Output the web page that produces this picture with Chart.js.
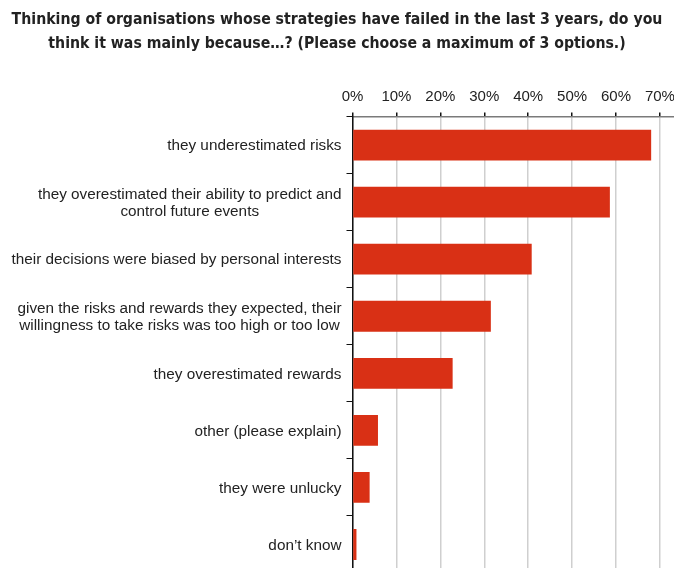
<!DOCTYPE html>
<html>
<head>
<meta charset="utf-8">
<script src="https://cdn.jsdelivr.net/npm/chart.js@4"></script>
<style>
  html, body { margin: 0; padding: 0; background: #fff; overflow: hidden; }
  #wrap { width: 674px; height: 573px; }
</style>
</head>
<body>
<div id="wrap"><canvas id="myChart"></canvas></div>
<script>
const TITLE = [
  'Thinking of organisations whose strategies have failed in the last 3 years, do you',
  'think it was mainly because…? (Please choose a maximum of 3 options.)'
];

const categories = [
  'they underestimated risks',
  ['they overestimated their ability to predict and', 'control future events'],
  'their decisions were biased by personal interests',
  ['given the risks and rewards they expected, their', 'willingness to take risks was too high or too low'],
  'they overestimated rewards',
  'other (please explain)',
  'they were unlucky',
  'don\u2019t know'
];

const percentages = [68, 58.6, 40.8, 31.5, 22.8, 5.8, 3.9, 0.9];

const tickValues = [0, 10, 20, 30, 40, 50, 60, 70];

const COLORS = {
  bar: '#d93015',
  text: '#222222',
  grid: '#cfcfcf',
  axis: '#7a7a7a'
};

const LABEL_FONT = '15.3px "Liberation Sans", Arial, sans-serif';
const LABEL_LINE = 17;

// category labels: block right-aligned to the axis, lines centred within the block
const categoryLabels = {
  id: 'categoryLabels',
  afterDraw(chart) {
    const scale = chart.scales.y;
    const c = chart.ctx;
    const right = scale.right - 11;
    c.save();
    c.font = LABEL_FONT;
    c.fillStyle = COLORS.text;
    c.textAlign = 'center';
    c.textBaseline = 'middle';
    chart.data.labels.forEach((label, i) => {
      const lines = Array.isArray(label) ? label : [label];
      const w = Math.max(...lines.map(l => c.measureText(l).width));
      const cx = right - w / 2;
      const y0 = scale.getPixelForTick(i) + 1 - (lines.length - 1) * LABEL_LINE / 2;
      lines.forEach((l, j) => c.fillText(l, cx, y0 + j * LABEL_LINE));
    });
    c.restore();
  }
};

let ctx = document.getElementById('myChart');

let myChart = new Chart(ctx, {
  type: 'bar',
  data: {
    labels: categories,
    datasets: [{
      data: percentages,
      backgroundColor: COLORS.bar,
      borderWidth: 0,
      barPercentage: 0.54,
      categoryPercentage: 1
    }]
  },
  options: {
    indexAxis: 'y',
    responsive: true,
    maintainAspectRatio: false,
    animation: false,
    layout: { padding: 0 },
    plugins: {
      legend: { display: false },
      tooltip: { enabled: false },
      title: {
        display: true,
        text: TITLE,
        color: COLORS.text,
        font: { family: '"Liberation Sans Narrow", "DejaVu Sans Condensed", sans-serif', size: 15.7, weight: 'bold', lineHeight: 1.53 },
        padding: { top: 8, bottom: 0 }
      }
    },
    scales: {
      x: {
        position: 'top',
        min: 0,
        max: 73.2,
        afterBuildTicks: (scale) => {
          scale.ticks = tickValues.map(v => ({ value: v }));
        },
        afterFit: (scale) => {
          // let the axis run to the right edge
          scale.height = 60.5;
          scale.paddingLeft = 0;
          scale.paddingRight = 0;
        },
        ticks: {
          color: COLORS.text,
          font: { family: '"Liberation Sans", Arial, sans-serif', size: 15 },
          padding: 7,
          callback: (v) => v + '%'
        },
        grid: {
          color: COLORS.grid,
          lineWidth: 1.5,
          tickColor: '#111',
          tickLength: 4
        },
        border: { color: COLORS.axis, width: 1.5 }
      },
      y: {
        afterFit: (scale) => {
          scale.width = 352.5;
          scale.paddingTop = 0;
          scale.paddingBottom = 0;
        },
        ticks: {
          display: false,
          autoSkip: false
        },
        grid: {
          drawOnChartArea: false,
          tickColor: '#111',
          tickLength: 6
        },
        border: { color: '#111', width: 1.5 }
      }
    }
  },
  plugins: [categoryLabels]
});
</script>
</body>
</html>
